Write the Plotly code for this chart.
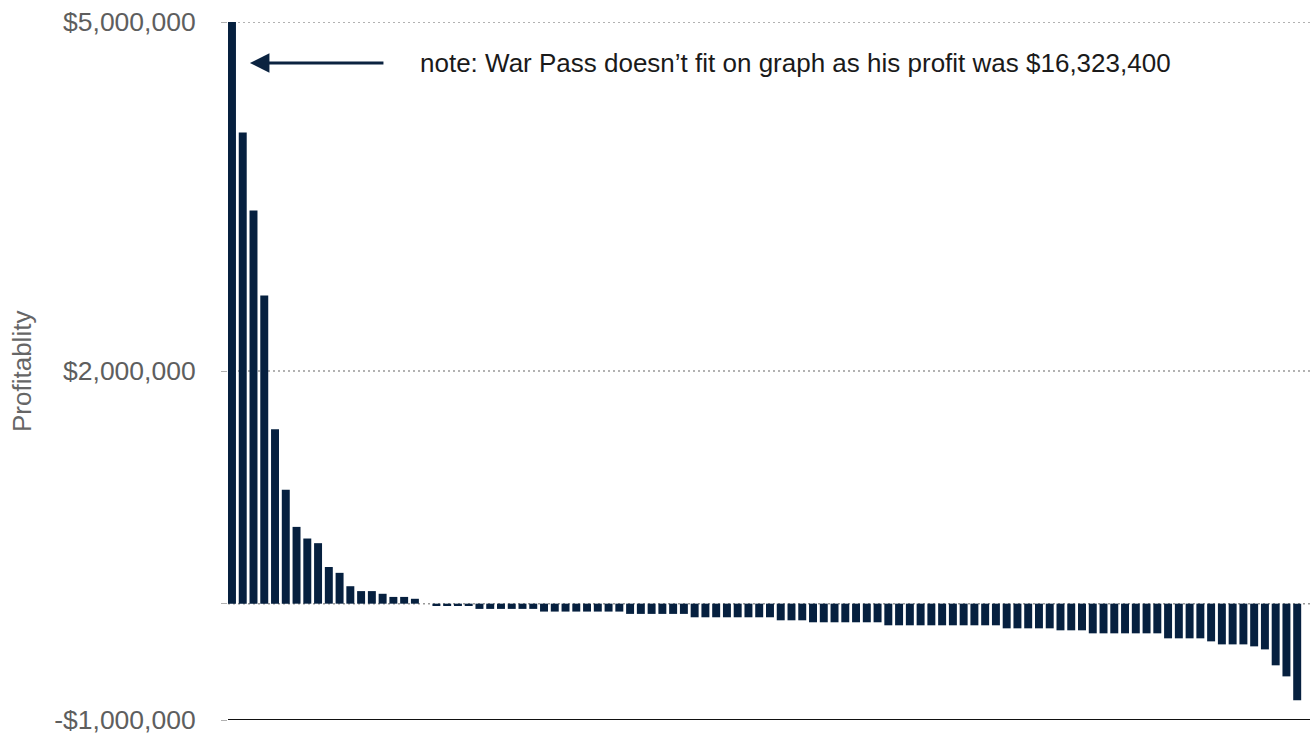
import plotly.graph_objects as go

# Data (profit per entry, sorted descending)
ranks = list(range(1, 101))
profit = [
    16323400, 4050000, 3380000, 2650000, 1500000, 980000, 660000, 560000, 520000, 315000,
    265000, 150000, 108000, 108000, 85000, 58000, 58000, 42000, 0, -20000,
    -20000, -20000, -20000, -45000, -45000, -45000, -45000, -45000, -45000, -68000,
    -68000, -68000, -68000, -68000, -68000, -68000, -68000, -88000, -88000, -88000,
    -88000, -88000, -88000, -117000, -117000, -117000, -117000, -117000, -117000, -117000,
    -117000, -143000, -143000, -143000, -160000, -160000, -160000, -160000, -160000, -160000,
    -160000, -186000, -186000, -186000, -186000, -186000, -186000, -186000, -186000, -186000,
    -186000, -186000, -212000, -212000, -212000, -212000, -212000, -229000, -229000, -229000,
    -255000, -255000, -255000, -255000, -255000, -255000, -255000, -298000, -298000, -298000,
    -298000, -324000, -350000, -350000, -350000, -367000, -393000, -530000, -625000, -831000,
]
tick_vals = [-1000000, 0, 2000000, 5000000]
tick_text = ["-$1,000,000", "", "$2,000,000", "$5,000,000"]
grid_vals = [0, 2000000, 5000000]
y_title = "Profitablity"
note_text = "note: War Pass doesn\u2019t fit on graph as his profit was $16,323,400"

BAR = "#06203f"
FONT = "Liberation Sans, Helvetica, Arial, sans-serif"

fig = go.Figure()
fig.add_trace(go.Bar(x=ranks, y=profit, marker=dict(color=BAR, line=dict(width=0)),
                     width=0.74, hoverinfo="skip"))

fig.update_layout(
    width=1314, height=739,
    margin=dict(l=228, r=4, t=22, b=19, autoexpand=False),
    plot_bgcolor="white", paper_bgcolor="white",
    showlegend=False,
    font=dict(family=FONT, color="#5e5e5e"),
)
fig.update_xaxes(range=[0.63, 101.19], showgrid=False, zeroline=False,
                 showticklabels=False, showline=False, ticks="", automargin=False)
fig.update_yaxes(
    range=[-1000000, 5000000], tickvals=tick_vals, ticktext=tick_text,
    tickfont=dict(size=26.5, color="#5e5e5e"),
    ticks="outside", ticklen=6, tickcolor="#b0b0b0", tickwidth=1,
    ticklabelstandoff=20,
    showgrid=False, zeroline=False, showline=False, automargin=False,
)
# dotted grid lines
for gv in grid_vals:
    fig.add_shape(type="line", xref="paper", yref="y", x0=0, x1=1, y0=gv, y1=gv,
                  layer="below", line=dict(color="#999999", width=1.5, dash="2px,3px"))
# solid baseline at the bottom of the axis
fig.add_shape(type="line", xref="paper", yref="y", x0=0, x1=1,
              y0=-1000000, y1=-1000000, line=dict(color="#111111", width=2))

# y-axis title
fig.add_annotation(x=-0.1904, y=0.5, xref="paper", yref="paper", text=y_title,
                   textangle=-90, showarrow=False, xanchor="center", yanchor="middle",
                   font=dict(size=26, color="#666666", family=FONT))

# arrow + note
fig.add_annotation(x=2.67, y=4648000, xref="x", yref="y", text="",
                   showarrow=True, arrowhead=2, arrowsize=1.3, arrowwidth=3,
                   arrowcolor="#0b2340", ax=135, ay=0)
fig.add_annotation(x=18.29, y=4648000, xref="x", yref="y", text=note_text,
                   showarrow=False, xanchor="left", yanchor="middle",
                   font=dict(size=26, color="#1a1a1a", family=FONT))

fig.write_html("out.html", config={"displayModeBar": False},
               post_script="document.body.style.margin='0';document.body.style.overflow='hidden';")
